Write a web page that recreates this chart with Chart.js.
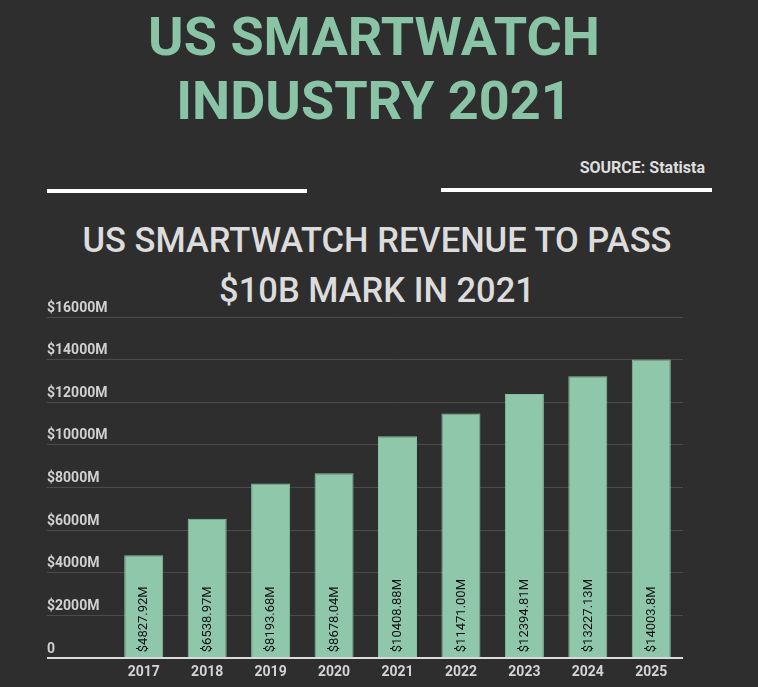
<!DOCTYPE html>
<html>
<head>
<meta charset="utf-8">
<script src="https://cdn.jsdelivr.net/npm/chart.js@4"></script>
<style>
  html, body { margin:0; padding:0; background:#2f2e2e; width:758px; height:687px; overflow:hidden; font-family: Roboto, "Noto Sans", sans-serif; }
  .abs { position:absolute; }
  #title { left:0; width:748px; top:5px; text-align:center; color:#89c4a7; font-weight:700; font-size:54px; line-height:64px; }
  #source { right:53px; top:159px; color:#dedede; font-weight:700; font-size:16px; line-height:18px; }
  .rule { background:#ffffff; height:4px; }
  #sub { left:0; width:754px; top:215px; text-align:center; color:#dcdcdc; font-weight:500; font-size:34.5px; line-height:50px; }
  #wrap { left:0; top:0; width:758px; height:687px; }
</style>
</head>
<body>
<div id="title" class="abs">US SMARTWATCH<br>INDUSTRY 2021</div>
<div id="source" class="abs">SOURCE: Statista</div>
<div class="abs rule" style="left:47px; top:189px; width:260px;"></div>
<div class="abs rule" style="left:441px; top:188px; width:271px;"></div>
<div id="sub" class="abs">US SMARTWATCH REVENUE TO PASS<br>$10B MARK IN 2021</div>
<div id="wrap" class="abs"><canvas id="c"></canvas></div>
<script>
const years = ['2017','2018','2019','2020','2021','2022','2023','2024','2025'];
const revenue = [4827.92, 6538.97, 8193.68, 8678.04, 10408.88, 11471.00, 12394.81, 13227.13, 14003.8];
const valueLabels = ['$4827.92M','$6538.97M','$8193.68M','$8678.04M','$10408.88M','$11471.00M','$12394.81M','$13227.13M','$14003.8M'];
const yTickValues = [0, 2000, 4000, 6000, 8000, 10000, 12000, 14000, 16000];
const yTickLabels = ['0','$2000M','$4000M','$6000M','$8000M','$10000M','$12000M','$14000M','$16000M'];

const barLabelPlugin = {
  id: 'barLabels',
  afterDatasetsDraw(chart) {
    const ctx = chart.ctx;
    const meta = chart.getDatasetMeta(0);
    const bottom = chart.scales.y.getPixelForValue(0);
    ctx.save();
    ctx.font = '400 13px Roboto';
    ctx.fillStyle = '#111111';
    ctx.textAlign = 'left';
    ctx.textBaseline = 'middle';
    meta.data.forEach((bar, i) => {
      ctx.save();
      ctx.translate(bar.x, bottom - 6);
      ctx.rotate(-Math.PI / 2);
      ctx.fillText(valueLabels[i], 0, 0.5);
      ctx.restore();
    });
    ctx.restore();
  }
};

new Chart(document.getElementById('c'), {
  type: 'bar',
  data: {
    labels: years,
    datasets: [{
      data: revenue,
      backgroundColor: '#8fc7aa',
      borderColor: '#86c0a2',
      borderWidth: 1,
      categoryPercentage: 1,
      barPercentage: 0.615
    }]
  },
  options: {
    responsive: true,
    maintainAspectRatio: false,
    animation: false,
    layout: { padding: { left: 47, right: 75, top: 317, bottom: 0 } },
    plugins: { legend: { display: false }, tooltip: { enabled: false } },
    scales: {
      x: {
        grid: { display: false, drawTicks: false },
        border: { display: false },
        ticks: { color: '#d4d4d4', font: { family: 'Roboto', size: 14, weight: '700' }, padding: 6 }
      },
      y: {
        min: 0, max: 16000,
        afterBuildTicks(scale) { scale.ticks = yTickValues.map(v => ({ value: v })); },
        afterFit(scale) { scale.width = 65; },
        border: { display: false },
        grid: {
          color: c => (c.tick && c.tick.value === 0) ? '#dcdcdc' : '#4b4b4b',
          lineWidth: c => (c.tick && c.tick.value === 0) ? 2 : 1,
          tickLength: 65,
          drawTicks: true
        },
        ticks: {
          crossAlign: 'far',
          labelOffset: -9,
          padding: 0,
          color: '#d0d0d0',
          font: { family: 'Roboto', size: 14, weight: '700' },
          callback: (v, i) => yTickLabels[yTickValues.indexOf(v)]
        }
      }
    }
  },
  plugins: [barLabelPlugin]
});
</script>
</body>
</html>
